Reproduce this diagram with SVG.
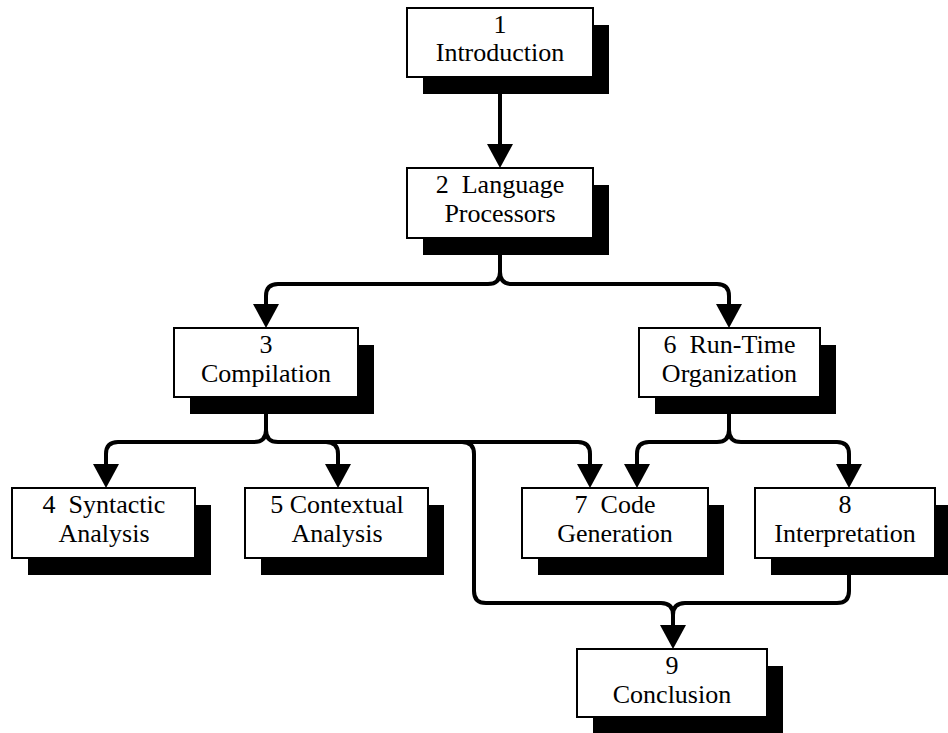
<svg xmlns="http://www.w3.org/2000/svg" width="948" height="733" viewBox="0 0 948 733">
<style>
.box{fill:#fff;stroke:#000;stroke-width:2}
.sh{fill:#000}
.t{font-family:"Liberation Serif","Times New Roman",serif;font-size:26px;fill:#000;text-anchor:middle}
.c{fill:none;stroke:#000;stroke-width:4;stroke-linejoin:round}
.a{marker-end:url(#ah)}
</style>
<defs>
<marker id="ah" markerUnits="userSpaceOnUse" viewBox="0 -13 24 26" refX="0" refY="0" markerWidth="24" markerHeight="26" orient="auto">
<path d="M0,-13 L24,0 L0,13 Z" fill="#000"/>
</marker>
</defs>
<rect width="948" height="733" fill="#fff"/>
<g id="connectors">
<path class="c a" d="M500,94 V144"/>
<path class="c" d="M500,255 V272"/>
<path class="c a" d="M500,272 Q500,284 488,284 H278 Q266,284 266,296 V304"/>
<path class="c a" d="M500,272 Q500,284 512,284 H717 Q729,284 729,296 V304"/>
<path class="c" d="M266,414 V430"/>
<path class="c a" d="M266,430 Q266,442 254,442 H118 Q106,442 106,454 V464"/>
<path class="c a" d="M266,430 Q266,442 278,442 H578 Q590,442 590,454 V464"/>
<path class="c a" d="M326,442 Q338,442 338,454 V464"/>
<path class="c a" d="M462,442 Q474,442 474,454 V591 Q474,603 486,603 H661 Q673,603 673,615 V625"/>
<path class="c" d="M849,575 V591 Q849,603 837,603 H685 Q673,603 673,615"/>
<path class="c" d="M729,414 V430"/>
<path class="c a" d="M729,430 Q729,442 717,442 H649 Q637,442 637,454 V464"/>
<path class="c a" d="M729,430 Q729,442 741,442 H837 Q849,442 849,454 V464"/>
</g>
<g id="n1">
<rect class="sh" x="423" y="25" width="186" height="69"/>
<rect class="box" x="407" y="8" width="186" height="69"/>
<text class="t" x="500" y="33">1</text>
<text class="t" x="500" y="61">Introduction</text>
</g>
<g id="n2">
<rect class="sh" x="423" y="185" width="186" height="70"/>
<rect class="box" x="407" y="168" width="186" height="70"/>
<text class="t" x="500" y="193" xml:space="preserve">2  Language</text>
<text class="t" x="500" y="222">Processors</text>
</g>
<g id="n3">
<rect class="sh" x="190" y="345" width="184" height="69"/>
<rect class="box" x="174" y="328" width="184" height="69"/>
<text class="t" x="266" y="353">3</text>
<text class="t" x="266" y="382">Compilation</text>
</g>
<g id="n6">
<rect class="sh" x="655" y="345" width="181" height="69"/>
<rect class="box" x="639" y="328" width="181" height="69"/>
<text class="t" x="729.5" y="353" xml:space="preserve">6  Run-Time</text>
<text class="t" x="729.5" y="382">Organization</text>
</g>
<g id="n4">
<rect class="sh" x="28" y="505" width="183" height="70"/>
<rect class="box" x="12" y="488" width="183" height="70"/>
<text class="t" x="104" y="513" xml:space="preserve">4  Syntactic</text>
<text class="t" x="104" y="542">Analysis</text>
</g>
<g id="n5">
<rect class="sh" x="261" y="505" width="183" height="70"/>
<rect class="box" x="245" y="488" width="183" height="70"/>
<text class="t" x="337" y="513">5 Contextual</text>
<text class="t" x="337" y="542">Analysis</text>
</g>
<g id="n7">
<rect class="sh" x="538" y="505" width="186" height="70"/>
<rect class="box" x="522" y="488" width="186" height="70"/>
<text class="t" x="615" y="513" xml:space="preserve">7  Code</text>
<text class="t" x="615" y="542">Generation</text>
</g>
<g id="n8">
<rect class="sh" x="771" y="505" width="180" height="70"/>
<rect class="box" x="755" y="488" width="180" height="70"/>
<text class="t" x="845" y="513">8</text>
<text class="t" x="845" y="542">Interpretation</text>
</g>
<g id="n9">
<rect class="sh" x="593" y="666" width="190" height="68"/>
<rect class="box" x="577" y="649" width="190" height="68"/>
<text class="t" x="672" y="674">9</text>
<text class="t" x="672" y="703">Conclusion</text>
</g>
</svg>
